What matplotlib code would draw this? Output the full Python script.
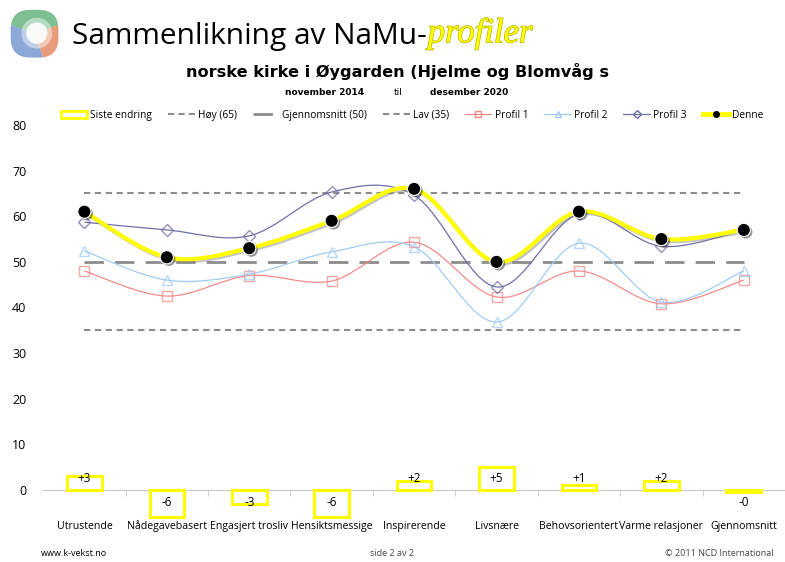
import matplotlib

matplotlib.use("Agg")
import matplotlib.pyplot as plt
import matplotlib.patheffects as pe
from matplotlib.lines import Line2D
from matplotlib.patches import Patch, Wedge, PathPatch, FancyBboxPatch, Circle
from matplotlib.path import Path
import numpy as np

categories = ["Utrustende", "Nådegavebasert", "Engasjert trosliv", "Hensiktsmessige",
              "Inspirerende", "Livsnære", "Behovsorientert", "Varme relasjoner", "Gjennomsnitt"]
siste_endring = [3, -6, -3, -6, 2, 5, 1, 2, -0.4]
endring_labels = ["+3", "-6", "-3", "-6", "+2", "+5", "+1", "+2", "-0"]
hoy = [65, 65, 65, 65, 65, 65, 65, 65, 65]
gjennomsnitt = [50, 50, 50, 50, 50, 50, 50, 50, 50]
lav = [35, 35, 35, 35, 35, 35, 35, 35, 35]
profil1 = [48, 42.5, 47, 45.8, 54.3, 42.3, 48, 40.8, 46]
profil2 = [52.4, 46, 47.3, 52.2, 53.3, 36.8, 54.1, 41.2, 48]
profil3 = [58.7, 57, 55.7, 65.3, 64.6, 44.5, 60.5, 53.4, 57]
denne = [61, 51, 53, 59, 66, 50, 61, 55, 57]
yticks = [0, 10, 20, 30, 40, 50, 60, 70, 80]

YELLOW = "#ffff00"
GRAY = "#8c8c8c"
C1 = "#f58a8a"
C2 = "#9fcdf5"
C3 = "#6f6fa8"


def smooth_path(x, y):
    # Excel-style smoothed line: cubic Bezier through each point
    p = np.column_stack([x, y]).astype(float)
    pp = np.vstack([p[0], p, p[-1]])
    verts = [p[0]]
    codes = [Path.MOVETO]
    for i in range(len(p) - 1):
        a, b, c, d = pp[i], pp[i + 1], pp[i + 2], pp[i + 3]
        verts += [b + (c - a) / 6.0, c - (d - b) / 6.0, c]
        codes += [Path.CURVE4] * 3
    return Path(verts, codes)


fig = plt.figure(figsize=(7.85, 5.62), dpi=100)
ax = fig.add_axes([0.055, 0.047, 0.945, 0.7306])
x = np.arange(len(categories))

# change boxes
ax.bar(x, siste_endring, width=0.42, facecolor="white", edgecolor=YELLOW, linewidth=2.2, zorder=2)
for xi, v, lab in zip(x, siste_endring, endring_labels):
    ax.text(xi, 2.6 if v > 0 else -2.8, lab, ha="center", va="center", fontsize=8.5,
            family="Open Sans", zorder=3)

# reference lines
ax.plot(x, hoy, color=GRAY, lw=1.5, dashes=(3, 2.2), zorder=3)
ax.plot(x, lav, color=GRAY, lw=1.5, dashes=(3, 2.2), zorder=3)
ax.plot(x, gjennomsnitt, color=GRAY, lw=2, dashes=(7, 4), zorder=3)

# profiles
for vals, col, mk, ms in [(profil1, C1, "s", 7), (profil2, C2, "^", 7), (profil3, C3, "D", 6)]:
    ax.add_patch(PathPatch(smooth_path(x, vals), facecolor="none", edgecolor=col, lw=0.9, zorder=4))
    ax.plot(x, vals, ls="none", marker=mk, ms=ms, mfc="none", mec=col, mew=1.0, alpha=0.75, zorder=5)

shadow = [pe.SimpleLineShadow(offset=(1.2, -1.2), shadow_color="gray", alpha=0.45), pe.Normal()]
ax.add_patch(PathPatch(smooth_path(x, denne), facecolor="none", edgecolor=YELLOW, lw=3.0,
                       zorder=6, path_effects=shadow))
ax.plot(x, denne, ls="none", marker="o", ms=9.5, mfc="black", mec="white", mew=0.8, zorder=7,
        path_effects=[pe.SimplePatchShadow(offset=(1.5, -1.5), alpha=0.4), pe.Normal()])

ax.set_xlim(-0.5, 8.5)
ax.set_ylim(-10, 80)
ax.set_yticks(yticks)
ax.tick_params(axis="y", length=0, labelsize=9, pad=12)
for s in ["left", "right", "top"]:
    ax.spines[s].set_visible(False)
ax.spines["bottom"].set_position(("data", 0))
ax.spines["bottom"].set_color("#c8c8c8")
ax.spines["bottom"].set_zorder(1)
ax.set_xticks(x, categories)
ax.set_xticks(np.arange(0.5, 8.5, 1.0), minor=True)
ax.tick_params(axis="x", which="major", length=0, labelsize=7.6, pad=22)
ax.tick_params(axis="x", which="minor", length=4, color="#c8c8c8")
for t in ax.get_xticklabels() + ax.get_yticklabels():
    t.set_family("Open Sans")

handles = [
    Patch(facecolor="white", edgecolor=YELLOW, linewidth=2, label="Siste endring"),
    Line2D([], [], color=GRAY, lw=1.5, dashes=(3, 2), label="Høy (65)"),
    Line2D([], [], color=GRAY, lw=2, dashes=(7, 4), label="Gjennomsnitt (50)"),
    Line2D([], [], color=GRAY, lw=1.5, dashes=(3, 2), label="Lav (35)"),
    Line2D([], [], color=C1, lw=0.9, marker="s", ms=5, mfc="none", label="Profil 1"),
    Line2D([], [], color=C2, lw=0.9, marker="^", ms=5, mfc="none", label="Profil 2"),
    Line2D([], [], color=C3, lw=0.9, marker="D", ms=4, mfc="none", label="Profil 3"),
    Line2D([], [], color=YELLOW, lw=3.5, marker="o", ms=4, mfc="black", mec="black", label="Denne"),
]
fig.legend(handles=handles, loc="center", bbox_to_anchor=(0.525, 0.795), ncol=8, frameon=False,
           prop={"family": "Open Sans", "size": 7.3}, handlelength=2.6, handletextpad=0.3,
           columnspacing=1.6)

# title block: second word placed right after the first
t1 = fig.text(0.092, 0.935, "Sammenlikning av NaMu-", fontsize=21.5, family="Open Sans", va="center")
fig.canvas.draw()
bb = t1.get_window_extent()
x2 = bb.x1 / fig.bbox.width
fig.text(x2 + 0.001, 0.94, "profiler", fontsize=25, family="Liberation Serif", style="italic",
         color=YELLOW, va="center",
         path_effects=[pe.withStroke(linewidth=1.0, foreground="#b5b500")])
fig.text(0.507, 0.872, "norske kirke i Øygarden (Hjelme og Blomvåg s", fontsize=11.6, weight="bold",
         family="DejaVu Sans", ha="center", va="center")
fig.text(0.414, 0.836, "november 2014", fontsize=6.5, weight="bold", family="DejaVu Sans",
         ha="center", va="center")
fig.text(0.507, 0.836, "til", fontsize=6.5, family="DejaVu Sans", ha="center", va="center")
fig.text(0.598, 0.836, "desember 2020", fontsize=6.5, weight="bold", family="DejaVu Sans",
         ha="center", va="center")

# logo
lax = fig.add_axes([0.008, 0.89, 0.072, 0.1])
lax.set_xlim(-1, 1)
lax.set_ylim(-1, 1)
lax.set_aspect("equal")
lax.axis("off")
box = FancyBboxPatch((-0.75, -0.75), 1.5, 1.5, boxstyle="round,pad=0.1,rounding_size=0.7",
                     facecolor="none", edgecolor="none")
lax.add_patch(box)
for th1, th2, col in [(20, 160, "#5fae78"), (160, 290, "#6f93cc"), (290, 380, "#e3825a")]:
    w = Wedge((0, 0), 1.4, th1, th2, facecolor=col, alpha=0.8)
    lax.add_patch(w)
    w.set_clip_path(box)
for r, a in [(0.55, 0.45), (0.38, 0.9)]:
    lax.add_patch(Circle((0.08, 0.02), r, facecolor="white", alpha=a))

# footer
fig.text(0.052, 0.01, "www.k-vekst.no", fontsize=6.5, family="Open Sans")
fig.text(0.5, 0.01, "side 2 av 2", fontsize=6.5, family="Open Sans", ha="center", color="#444444")
fig.text(0.985, 0.01, "© 2011 NCD International", fontsize=6.5, family="Open Sans", ha="right",
         color="#444444")

fig.savefig("out.png", dpi=100)
